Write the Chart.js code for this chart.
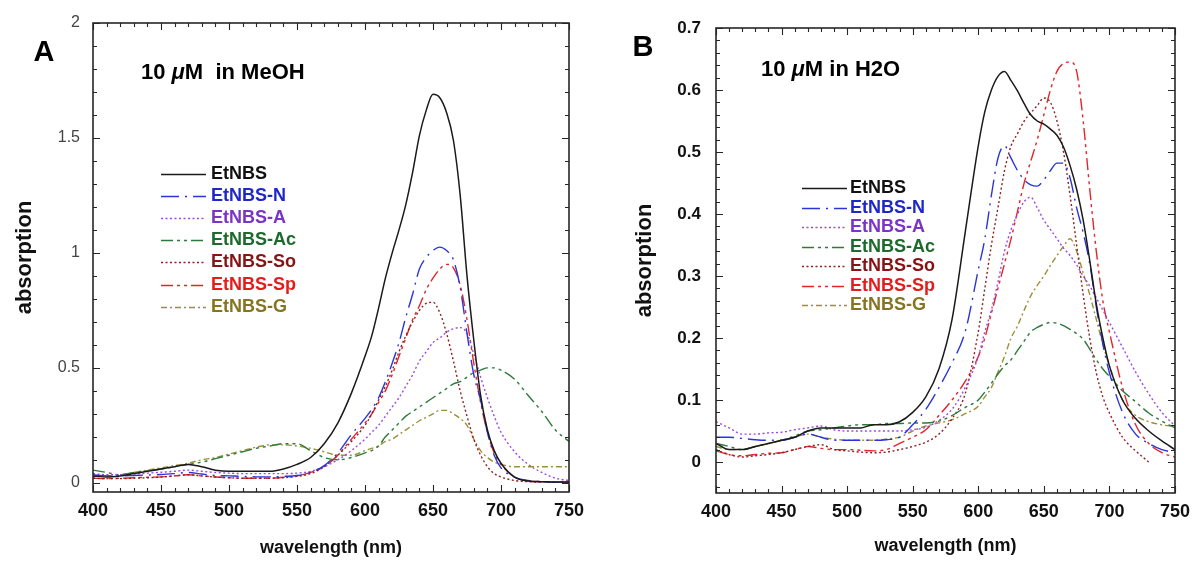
<!DOCTYPE html>
<html>
<head>
<meta charset="utf-8">
<title>EtNBS absorption spectra</title>
<script src="https://cdn.jsdelivr.net/npm/chart.js@4.4.1/dist/chart.umd.min.js"></script>
<style>
    html, body { margin: 0; padding: 0; background: #fff; }
    #wrap { position: relative; width: 1198px; height: 563px; overflow: hidden; }
    .panel { position: absolute; top: 0; }
</style>
</head>
<body>
<div id="wrap">
    <div class="panel" style="left:0"><canvas id="chartA" width="600" height="563"></canvas></div>
    <div class="panel" style="left:600px"><canvas id="chartB" width="598" height="563"></canvas></div>
</div>
<script>
// Absorption spectra of EtNBS derivatives, 10 uM in MeOH (A) and H2O (B)

const wavelengths = [
    400, 410, 420, 430, 440, 450, 460, 470, 480, 490, 500, 510, 520, 530, 540, 550, 560, 570, 580, 590,
    600, 605, 610, 615, 620, 625, 630, 635, 640, 645, 650, 655, 660, 665, 670, 675, 680, 685, 690, 695, 700,
    710, 720, 730, 740, 750
];

const seriesNames = ['EtNBS', 'EtNBS-N', 'EtNBS-A', 'EtNBS-Ac', 'EtNBS-So', 'EtNBS-Sp', 'EtNBS-G'];

// panel A - MeOH
const meohEtNBS = [0.03, 0.025, 0.03, 0.04, 0.05, 0.06, 0.07, 0.08, 0.07, 0.055, 0.05, 0.05, 0.05, 0.05, 0.06, 0.08, 0.11, 0.17, 0.26, 0.39,
    0.55, 0.64, 0.76, 0.89, 1.00, 1.10, 1.21, 1.35, 1.51, 1.62, 1.69, 1.675, 1.61, 1.49, 1.25, 0.90, 0.62, 0.38, 0.23, 0.14, 0.085,
    0.025, 0.008, 0.005, 0.003, 0.003];
const meohN = [0.035, 0.03, 0.03, 0.032, 0.034, 0.036, 0.04, 0.045, 0.038, 0.032, 0.03, 0.028, 0.026, 0.026, 0.028, 0.032, 0.045, 0.075, 0.13, 0.21,
    0.28, 0.32, 0.37, 0.44, 0.52, 0.61, 0.72, 0.82, 0.93, 0.98, 1.01, 1.025, 1.01, 0.97, 0.85, 0.65, 0.47, 0.36, 0.22, 0.12, 0.065,
    0.025, 0.01, 0.005, 0.003, 0.003];
const meohA = [0.04, 0.035, 0.035, 0.038, 0.042, 0.046, 0.05, 0.055, 0.05, 0.045, 0.042, 0.04, 0.04, 0.04, 0.04, 0.042, 0.05, 0.07, 0.10, 0.14,
    0.19, 0.22, 0.25, 0.29, 0.33, 0.37, 0.42, 0.47, 0.53, 0.57, 0.61, 0.63, 0.655, 0.67, 0.675, 0.65, 0.56, 0.46, 0.37, 0.29, 0.22,
    0.135, 0.08, 0.045, 0.02, 0.01];
const meohAc = [0.055, 0.045, 0.035, 0.045, 0.052, 0.06, 0.07, 0.08, 0.09, 0.105, 0.12, 0.135, 0.15, 0.16, 0.17, 0.17, 0.14, 0.11, 0.10, 0.11,
    0.13, 0.14, 0.16, 0.20, 0.23, 0.26, 0.29, 0.31, 0.33, 0.35, 0.37, 0.39, 0.41, 0.43, 0.44, 0.46, 0.48, 0.49, 0.50, 0.50, 0.49,
    0.45, 0.38, 0.31, 0.23, 0.18];
const meohSo = [0.02, 0.018, 0.018, 0.02, 0.022, 0.025, 0.03, 0.035, 0.03, 0.025, 0.022, 0.02, 0.02, 0.02, 0.022, 0.028, 0.04, 0.07, 0.12, 0.18,
    0.25, 0.30, 0.36, 0.42, 0.49, 0.57, 0.64, 0.70, 0.75, 0.78, 0.785, 0.74, 0.65, 0.53, 0.40, 0.29, 0.19, 0.12, 0.07, 0.04, 0.025,
    0.01, 0.005, 0.003, 0.003, 0.003];
const meohSp = [0.02, 0.018, 0.02, 0.022, 0.024, 0.026, 0.03, 0.035, 0.03, 0.025, 0.022, 0.02, 0.02, 0.02, 0.024, 0.03, 0.045, 0.07, 0.12, 0.19,
    0.26, 0.30, 0.35, 0.40, 0.47, 0.55, 0.63, 0.71, 0.77, 0.84, 0.89, 0.93, 0.95, 0.935, 0.86, 0.71, 0.52, 0.35, 0.22, 0.13, 0.08,
    0.025, 0.008, 0.004, 0.003, 0.003];
const meohG = [0.03, 0.03, 0.035, 0.045, 0.055, 0.065, 0.075, 0.085, 0.10, 0.11, 0.125, 0.14, 0.155, 0.165, 0.165, 0.16, 0.15, 0.135, 0.12, 0.12,
    0.14, 0.15, 0.16, 0.18, 0.19, 0.21, 0.23, 0.25, 0.27, 0.285, 0.30, 0.315, 0.315, 0.30, 0.28, 0.25, 0.19, 0.14, 0.11, 0.09, 0.08,
    0.07, 0.07, 0.07, 0.07, 0.07];

// panel B - H2O
const h2oEtNBS = [0.03, 0.02, 0.02, 0.025, 0.03, 0.035, 0.04, 0.05, 0.055, 0.055, 0.055, 0.055, 0.06, 0.06, 0.065, 0.08, 0.105, 0.15, 0.23, 0.37,
    0.51, 0.565, 0.60, 0.622, 0.63, 0.615, 0.598, 0.578, 0.56, 0.55, 0.545, 0.537, 0.527, 0.508, 0.478, 0.44, 0.39, 0.325, 0.255, 0.20, 0.155,
    0.10, 0.07, 0.05, 0.034, 0.02];
const h2oN = [0.04, 0.04, 0.038, 0.036, 0.035, 0.035, 0.04, 0.045, 0.04, 0.035, 0.035, 0.035, 0.035, 0.036, 0.04, 0.06, 0.085, 0.12, 0.16, 0.21,
    0.31, 0.36, 0.43, 0.49, 0.51, 0.49, 0.47, 0.455, 0.447, 0.445, 0.455, 0.47, 0.482, 0.482, 0.458, 0.41, 0.37, 0.32, 0.25, 0.19, 0.144,
    0.08, 0.045, 0.03, 0.02, 0.015];
const h2oA = [0.065, 0.055, 0.045, 0.045, 0.047, 0.048, 0.052, 0.055, 0.058, 0.052, 0.05, 0.05, 0.05, 0.05, 0.05, 0.052, 0.056, 0.067, 0.085, 0.12,
    0.17, 0.21, 0.245, 0.29, 0.34, 0.375, 0.40, 0.42, 0.427, 0.41, 0.39, 0.375, 0.36, 0.345, 0.333, 0.318, 0.30, 0.284, 0.265, 0.245, 0.225,
    0.185, 0.145, 0.11, 0.08, 0.058];
const h2oAc = [0.03, 0.025, 0.02, 0.025, 0.03, 0.035, 0.042, 0.05, 0.052, 0.055, 0.058, 0.06, 0.06, 0.062, 0.062, 0.063, 0.063, 0.066, 0.075, 0.088,
    0.10, 0.113, 0.127, 0.142, 0.155, 0.165, 0.18, 0.195, 0.21, 0.217, 0.222, 0.225, 0.224, 0.22, 0.214, 0.207, 0.198, 0.182, 0.165, 0.15, 0.138,
    0.115, 0.097, 0.079, 0.066, 0.055];
const h2oSo = [0.02, 0.012, 0.008, 0.01, 0.012, 0.015, 0.02, 0.025, 0.028, 0.02, 0.018, 0.016, 0.015, 0.016, 0.02, 0.025, 0.032, 0.045, 0.07, 0.11,
    0.21, 0.28, 0.35, 0.41, 0.47, 0.51, 0.53, 0.55, 0.563, 0.575, 0.587, 0.58, 0.55, 0.50, 0.43, 0.35, 0.27, 0.20, 0.144, 0.105, 0.079,
    0.04, 0.018, 0.0, null, null];
const h2oSp = [0.018, 0.012, 0.01, 0.012, 0.014, 0.015, 0.02, 0.025, 0.022, 0.02, 0.02, 0.019, 0.018, 0.02, 0.03, 0.04, 0.052, 0.075, 0.10, 0.13,
    0.17, 0.20, 0.24, 0.28, 0.32, 0.36, 0.405, 0.45, 0.485, 0.52, 0.56, 0.60, 0.63, 0.643, 0.645, 0.63, 0.55, 0.44, 0.34, 0.26, 0.21,
    0.12, 0.06, 0.03, 0.015, 0.008];
const h2oG = [0.025, 0.02, 0.02, 0.025, 0.03, 0.035, 0.04, 0.045, 0.04, 0.037, 0.035, 0.035, 0.035, 0.037, 0.04, 0.05, 0.058, 0.063, 0.068, 0.078,
    0.09, 0.105, 0.12, 0.145, 0.17, 0.20, 0.22, 0.245, 0.268, 0.285, 0.30, 0.317, 0.333, 0.348, 0.36, 0.34, 0.305, 0.27, 0.23, 0.19, 0.155,
    0.10, 0.075, 0.065, 0.06, 0.057];

const xTicks = [400, 450, 500, 550, 600, 650, 700, 750];
const yTicksA = [0, 0.5, 1, 1.5, 2];
const yTicksB = [0, 0.1, 0.2, 0.3, 0.4, 0.5, 0.6, 0.7];

const lineColors = ['#1a1a1a', '#2a35d8', '#9a4ae0', '#2e7a3c', '#8e2024', '#e2262a', '#9c9035'];
const textColors = ['#111111', '#1f27c8', '#7a34c6', '#1c6a2c', '#861416', '#e41c1c', '#857522'];
const lineDashes = [[], [18, 6, 2, 6], [2, 2.5], [12, 4, 3, 4, 3, 4], [2, 2.5], [12, 4, 3, 4, 3, 4], [6, 3, 2, 3]];

const FONT = '"Liberation Sans", Arial, Helvetica, sans-serif';

function snap(v) {
    return Math.round(v * 10000) / 10000;
}

// box around the plot with inward ticks on all four sides
const frameTicksPlugin = {
    id: 'frameTicks',
    afterDraw(chart, args, opts) {
        const { ctx, chartArea: a } = chart;
        const xs = chart.scales.x;
        const ys = chart.scales.y;
        ctx.save();
        ctx.strokeStyle = '#262626';
        ctx.lineWidth = 1.6;
        ctx.strokeRect(a.left, a.top, a.right - a.left, a.bottom - a.top);

        ctx.lineWidth = 1.1;
        ctx.beginPath();
        const xStart = Math.ceil(xs.min / opts.xMinor) * opts.xMinor;
        for (let i = 0; xStart + i * opts.xMinor <= xs.max + 1e-9; i++) {
            const v = snap(xStart + i * opts.xMinor);
            const len = xTicks.includes(v) ? 7 : 4;
            const px = Math.round(xs.getPixelForValue(v)) + 0.5;
            ctx.moveTo(px, a.bottom);
            ctx.lineTo(px, a.bottom - len);
            ctx.moveTo(px, a.top);
            ctx.lineTo(px, a.top + len);
        }
        const yStart = Math.ceil(snap(ys.min / opts.yMinor)) * opts.yMinor;
        for (let i = 0; yStart + i * opts.yMinor <= ys.max + 1e-9; i++) {
            const v = snap(yStart + i * opts.yMinor);
            const len = opts.yMajor.includes(v) ? 7 : 4;
            const py = Math.round(ys.getPixelForValue(v)) + 0.5;
            ctx.moveTo(a.left, py);
            ctx.lineTo(a.left + len, py);
            ctx.moveTo(a.right, py);
            ctx.lineTo(a.right - len, py);
        }
        ctx.stroke();
        ctx.restore();
    }
};

// panel letter, condition note and the line legend
const panelTextPlugin = {
    id: 'panelText',
    afterDraw(chart, args, opts) {
        const ctx = chart.ctx;
        ctx.save();
        ctx.fillStyle = '#000';
        ctx.textBaseline = 'middle';
        ctx.textAlign = 'center';
        ctx.font = `bold 29px ${FONT}`;
        ctx.fillText(opts.letter, opts.letterX, opts.letterY);

        // "10 μM in ..." with an italic mu
        ctx.textAlign = 'left';
        let x = opts.noteX;
        const parts = [['10 ', 'bold'], ['\u03bc', 'italic bold'], [opts.noteRest, 'bold']];
        parts.forEach(([txt, style]) => {
            ctx.font = `${style} 22px ${FONT}`;
            ctx.fillText(txt, x, opts.noteY);
            x += ctx.measureText(txt).width;
        });

        const lg = opts.legend;
        chart.data.datasets.forEach((ds, i) => {
            const y = Math.round(lg.top + i * lg.gap) + 0.5;
            ctx.strokeStyle = ds.borderColor;
            ctx.lineWidth = 1.6;
            ctx.setLineDash(ds.borderDash || []);
            ctx.beginPath();
            ctx.moveTo(lg.x, y);
            ctx.lineTo(lg.x + lg.len, y);
            ctx.stroke();
            ctx.setLineDash([]);
            ctx.fillStyle = textColors[i];
            ctx.font = `bold 18px ${FONT}`;
            ctx.fillText(ds.label, lg.x + lg.len + lg.textGap, y);
        });
        ctx.restore();
    }
};

function buildDatasets(series) {
    return series.map((values, i) => ({
        label: seriesNames[i],
        data: wavelengths.map((w, j) => ({ x: w, y: values[j] })),
        borderColor: lineColors[i],
        borderDash: lineDashes[i],
        borderWidth: i === 0 ? 1.5 : 1.4,
        pointRadius: 0,
        cubicInterpolationMode: 'monotone',
        fill: false
    }));
}

function makeChart(canvasId, series, cfg) {
    return new Chart(document.getElementById(canvasId), {
        type: 'line',
        plugins: [frameTicksPlugin, panelTextPlugin],
        data: { datasets: buildDatasets(series) },
        options: {
            responsive: false,
            animation: false,
            events: [],
            layout: { padding: { left: 0, top: cfg.padTop, right: cfg.padRight, bottom: 0 } },
            scales: {
                x: {
                    type: 'linear',
                    min: 400,
                    max: 750,
                    afterBuildTicks: s => { s.ticks = xTicks.map(v => ({ value: v })); },
                    afterFit: s => { s.height = cfg.xHeight; },
                    grid: { display: false, drawTicks: false },
                    border: { display: false },
                    ticks: {
                        padding: 8,
                        color: '#111',
                        maxRotation: 0,
                        autoSkip: false,
                        font: { family: FONT, size: 18, weight: 'bold' },
                        callback: v => String(v)
                    },
                    title: {
                        display: true,
                        text: 'wavelength (nm)',
                        color: '#111',
                        font: { family: FONT, size: 18, weight: 'bold' },
                        padding: { top: 0, bottom: cfg.xTitlePad }
                    }
                },
                y: {
                    type: 'linear',
                    min: cfg.yMin,
                    max: cfg.yMax,
                    afterBuildTicks: s => { s.ticks = cfg.yTicks.map(v => ({ value: v })); },
                    afterFit: s => { s.width = cfg.yWidth; },
                    grid: { display: false, drawTicks: false },
                    border: { display: false },
                    ticks: {
                        padding: cfg.yTickPad,
                        color: cfg.yTickColor,
                        font: { family: FONT, size: cfg.yTickSize, weight: cfg.yTickWeight },
                        callback: v => String(v)
                    },
                    title: {
                        display: true,
                        text: 'absorption',
                        color: '#111',
                        font: { family: FONT, size: 22, weight: 'bold' },
                        padding: { top: cfg.yTitlePad, bottom: 0 }
                    }
                }
            },
            plugins: {
                legend: { display: false },
                tooltip: { enabled: false },
                frameTicks: { xMinor: 10, yMinor: cfg.yMinor, yMajor: cfg.yTicks },
                panelText: cfg.text
            }
        }
    });
}

makeChart('chartA', [meohEtNBS, meohN, meohA, meohAc, meohSo, meohSp, meohG], {
    padTop: 23, padRight: 31, xHeight: 71, yWidth: 93,
    yMin: -0.04, yMax: 2, yTicks: yTicksA, yMinor: 0.1,
    yTickPad: 13, yTickColor: '#444', yTickSize: 16, yTickWeight: 'normal',
    yTitlePad: 12, xTitlePad: 4,
    text: {
        letter: 'A', letterX: 44, letterY: 53,
        noteX: 141, noteY: 73, noteRest: 'M  in MeOH',
        legend: { x: 161, top: 173.5, gap: 22.2, len: 45, textGap: 5 }
    }
});

makeChart('chartB', [h2oEtNBS, h2oN, h2oA, h2oAc, h2oSo, h2oSp, h2oG], {
    padTop: 28, padRight: 19, xHeight: 70, yWidth: 116,
    yMin: -0.05, yMax: 0.7, yTicks: yTicksB, yMinor: 0.02,
    yTickPad: 15, yTickColor: '#111', yTickSize: 17, yTickWeight: 'bold',
    yTitlePad: 32, xTitlePad: 6,
    text: {
        letter: 'B', letterX: 43, letterY: 48,
        noteX: 161, noteY: 70, noteRest: 'M in H2O',
        legend: { x: 202, top: 188, gap: 19.5, len: 45, textGap: 3 }
    }
});
</script>
</body>
</html>
